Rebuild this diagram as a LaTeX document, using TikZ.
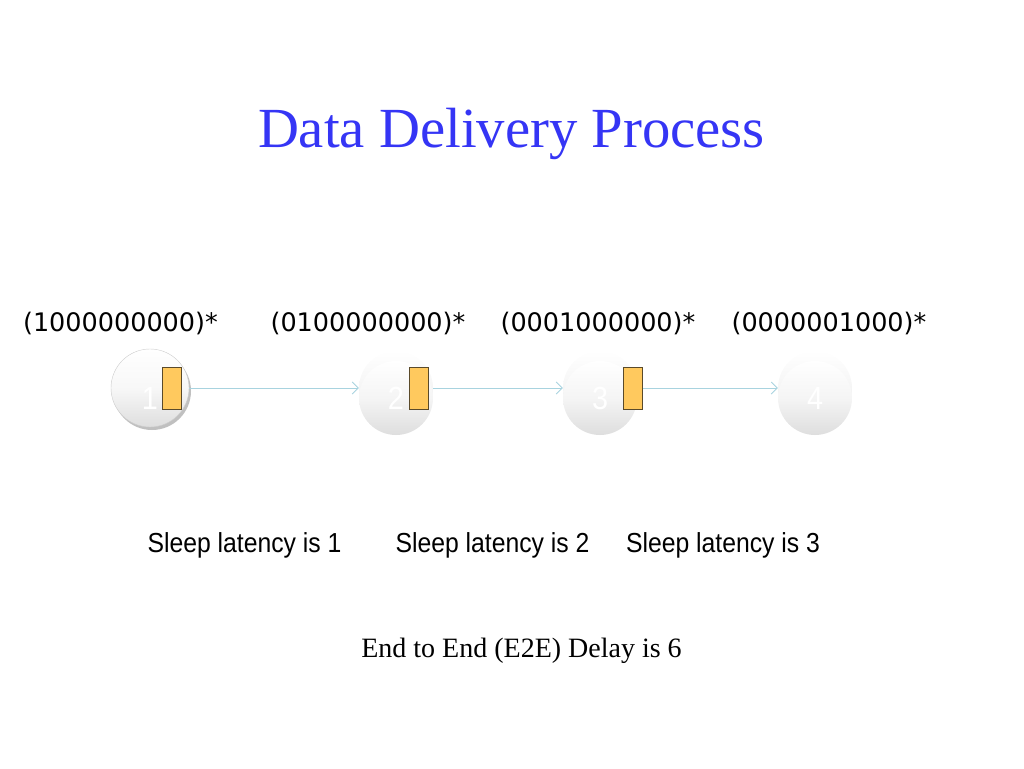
\documentclass[tikz,border=0pt]{standalone}
\usepackage{fontspec}
\setmainfont{Liberation Serif}
\newfontfamily\binfont{DejaVu Sans}
\newfontfamily\narrowfont[FakeStretch=0.9]{Liberation Sans}
\usetikzlibrary{arrows.meta,shadows}
\definecolor{titleblue}{HTML}{3535F5}
\definecolor{linkblue}{HTML}{A8D3DF}
\definecolor{packetfill}{HTML}{FFC95E}
\definecolor{packetdraw}{HTML}{5A4A2A}
\begin{document}
\begin{tikzpicture}[x=1pt, y=-1pt,
    state/.style={circle, minimum size=74pt, inner sep=0pt, top color=white,
      bottom color=black!13, middle color=black!4},
    num/.style={text=white, font=\fontsize{32}{32}\selectfont\narrowfont},
    packet/.style={rectangle, draw=packetdraw, fill=packetfill, thick,
      minimum width=19pt, minimum height=42pt, inner sep=0pt},
    pattern/.style={anchor=base, font=\fontsize{25.5}{28}\selectfont\binfont},
    latency/.style={anchor=base, font=\fontsize{27.5}{30}\selectfont\narrowfont}]
    \useasboundingbox (0,0) rectangle (1024,768);

    \node [anchor=base, text=titleblue, font=\fontsize{56.7}{60}\selectfont]
    (title) at (511.5,147) {Data Delivery Process};

    \begin{scope}[every node/.style={pattern}]
      \node (b1) at (120.5,331) {(1000000000)*}; \node (b2) at
      (368,331) {(0100000000)*}; \node (b3) at (598,331)
      {(0001000000)*}; \node (b4) at (829,331) {(0000001000)*};
    \end{scope}

    \node [state, minimum size=78pt, draw=black!20, middle color=black!3,
    drop shadow={shadow xshift=2pt, shadow yshift=-3pt, fill=black!55,
      opacity=0.45}, label={[num, yshift=-10pt]center:1}] (1) at
    (150,388) {};
    \begin{scope}[every node/.style={state}]
      \node [label={[num, yshift=-10pt]center:2}] (2) at (396,388) {};
      \node [label={[num, yshift=-10pt]center:3}] (3) at (600,388) {};
      \node [label={[num, yshift=-10pt]center:4}] (4) at (815,388) {};
    \end{scope}

    \begin{scope}[-{Straight Barb[length=6pt, width=12pt]}, draw=linkblue,
      line width=0.8pt]
      \draw (1) to (2); \draw (2) to (3); \draw (3) to (4);
    \end{scope}

    \begin{scope}[every node/.style={packet}]
      \node (p1) at (171.5,388) {}; \node (p2) at (418.5,388) {};
      \node (p3) at (632.5,388) {};
    \end{scope}

    \begin{scope}[every node/.style={latency}]
      \node (l1) at (244.5,552) {Sleep latency is 1}; \node (l2) at
      (492.5,552) {Sleep latency is 2}; \node (l3) at (723,552)
      {Sleep latency is 3};
    \end{scope}

    \node [anchor=base, font=\fontsize{28}{30}\selectfont] (delay) at
    (521.5,657) {End to End (E2E) Delay is 6};
\end{tikzpicture}
\end{document}
